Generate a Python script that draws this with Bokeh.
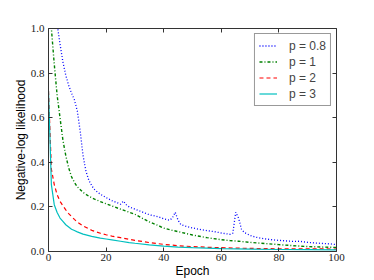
from bokeh.plotting import figure
from bokeh.models import LinearAxis, FixedTicker, PrintfTickFormatter, Legend, LegendItem, Range1d
from bokeh.embed import file_html
from bokeh.resources import INLINE

epochs_b = [0,1,2,3,4,5,6,7,8,9,10,11,12,13,14,15,16,17,18,
            20,22,24,25,26,27,28,30,32,
            35,38,40,42,43,44,45,46,48,50,
            52,55,58,60,62,63,64,65,66,67,68,
            70,72,75,78,80,83,85,87,90,93,95,98,100]
p08 = [1.6,1.35,1.15,1.02,0.93,0.85,0.79,0.745,0.71,0.68,0.63,0.54,0.43,0.36,0.32,0.295,0.278,0.266,0.257,
       0.242,0.228,0.218,0.212,0.226,0.21,0.2,0.19,0.18,
       0.165,0.156,0.147,0.14,0.15,0.176,0.14,0.12,0.112,0.106,
       0.1,0.094,0.088,0.083,0.079,0.077,0.082,0.176,0.15,0.1,0.085,
       0.072,0.064,0.057,0.052,0.05,0.047,0.045,0.046,0.041,0.038,0.036,0.034,0.031]

epochs_g = [0,1,2,3,4,5,6,7,8,9,10,12,14,16,18,20,22,25,28,30,32,
            35,38,40,43,46,50,55,60,63,66,70,75,80,85,90,95,100]
p1 = [1.3,1.0,0.84,0.7,0.6,0.5,0.43,0.375,0.335,0.31,0.29,
      0.265,0.248,0.235,0.224,0.214,0.204,0.19,0.176,0.167,0.153,
      0.133,0.117,0.105,0.095,0.086,0.074,0.062,0.053,0.049,0.046,
      0.041,0.036,0.031,0.026,0.022,0.02,0.018]

epochs_rc = [0,1,2,3,4,5,6,7,8,9,10,12,15,18,20,22,25,28,30,
             35,40,45,50,55,60,65,70,80,90,100]
p2 = [0.72,0.37,0.3,0.255,0.225,0.205,0.187,0.17,0.157,0.144,0.132,
      0.115,0.095,0.082,0.075,0.069,0.062,0.055,0.05,
      0.04,0.032,0.026,0.022,0.019,0.017,0.015,0.014,0.012,0.012,0.011]
p3 = [0.72,0.3,0.21,0.175,0.15,0.135,0.12,0.11,0.1,0.094,0.088,
      0.078,0.068,0.06,0.056,0.052,0.046,0.04,0.037,
      0.03,0.024,0.02,0.017,0.015,0.013,0.012,0.011,0.009,0.008,0.007]

labels = ["p = 0.8", "p = 1", "p = 2", "p = 3"]
x_ticks = [0, 20, 40, 60, 80, 100]
y_ticks = [0.0, 0.2, 0.4, 0.6, 0.8, 1.0]

p = figure(width=374, height=280, output_backend="svg", toolbar_location=None,
           x_range=Range1d(0, 100), y_range=Range1d(0, 1),
           min_border_left=48, min_border_right=38, min_border_top=28, min_border_bottom=29,
           x_axis_label="Epoch", y_axis_label="Negative-log likelihood")
p.grid.visible = False
p.outline_line_color = None
p.background_fill_color = "white"
p.border_fill_color = "white"

r1 = p.line(epochs_b, p08, line_color="blue", line_width=1.3, line_dash="1 2")
r2 = p.line(epochs_g, p1, line_color="#008000", line_width=1.4, line_dash="3 2 1 2")
r3 = p.line(epochs_rc, p2, line_color="red", line_width=1.2, line_dash="4 3")
r4 = p.line(epochs_rc, p3, line_color="#00bfbf", line_width=1.2)

serif = "Liberation Serif"
sans = "Liberation Sans"

def style(ax, ticks, show_labels):
    ax.ticker = FixedTicker(ticks=ticks)
    ax.minor_tick_line_color = None
    ax.major_tick_in = 4
    ax.major_tick_out = 0
    ax.axis_line_color = "#333333"
    ax.major_tick_line_color = "#333333"
    ax.axis_line_width = 1
    if show_labels:
        ax.major_label_text_font = serif
        ax.major_label_text_font_size = "11px"
        ax.major_label_text_color = "#222222"
        ax.axis_label_text_font = sans
        ax.axis_label_text_font_size = "12px"
        ax.axis_label_text_font_style = "normal"
        ax.axis_label_text_color = "black"
    else:
        ax.major_label_text_color = None
        ax.major_label_standoff = 0

style(p.xaxis[0], x_ticks, True)
style(p.yaxis[0], y_ticks, True)
p.yaxis[0].formatter = PrintfTickFormatter(format="%.1f")
p.xaxis[0].major_label_standoff = 2
p.yaxis[0].major_label_standoff = 4
p.xaxis[0].axis_label_standoff = 0
p.yaxis[0].axis_label_standoff = 0

top = LinearAxis()
style(top, x_ticks, False)
p.add_layout(top, "above")
right = LinearAxis()
style(right, y_ticks, False)
p.add_layout(right, "right")

legend = Legend(items=[LegendItem(label=labels[0], renderers=[r1]),
                       LegendItem(label=labels[1], renderers=[r2]),
                       LegendItem(label=labels[2], renderers=[r3]),
                       LegendItem(label=labels[3], renderers=[r4])],
                location="top_right", margin=5, padding=4, spacing=1,
                glyph_width=18, glyph_height=15, label_height=15,
                label_standoff=12, label_text_font=sans, label_text_font_size="12px",
                border_line_color="#333333", border_line_width=1,
                background_fill_alpha=1)
p.add_layout(legend, "center")

open("out.html", "w").write(file_html(p, INLINE))
